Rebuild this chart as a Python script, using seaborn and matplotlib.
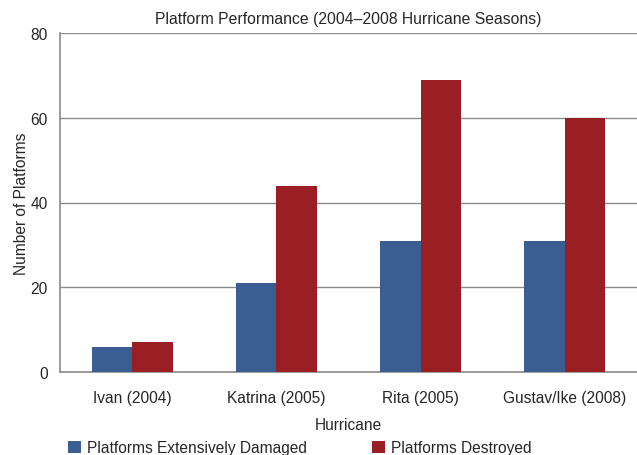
import matplotlib
matplotlib.use("Agg")
import matplotlib.pyplot as plt
from matplotlib.patches import Patch
import seaborn as sns
import pandas as pd

hurricanes = ["Ivan (2004)", "Katrina (2005)", "Rita (2005)", "Gustav/Ike (2008)"]
damaged = [6, 21, 31, 31]
destroyed = [7, 44, 69, 60]
series_names = ["Platforms Extensively Damaged", "Platforms Destroyed"]
y_ticks = [0, 20, 40, 60, 80]

colors = ["#3A5E91", "#9A1F24"]
grid_gray = "#8A8A8A"
fs = 11.2

df = pd.DataFrame({
    "Hurricane": hurricanes * 2,
    "Platforms": damaged + destroyed,
    "Series": [series_names[0]] * len(hurricanes) + [series_names[1]] * len(hurricanes),
})

sns.set_style("white")
plt.rcParams["font.family"] = ["Liberation Sans", "DejaVu Sans"]
plt.rcParams["font.size"] = fs

fig = plt.figure(figsize=(6.37, 4.56), dpi=100)
ax = fig.add_axes([60 / 637, 1 - 373 / 456, 1 - 60 / 637, (373 - 34) / 456])

sns.barplot(data=df, x="Hurricane", y="Platforms", hue="Series", order=hurricanes,
            hue_order=series_names, palette=colors, width=0.56, saturation=1,
            edgecolor="none", linewidth=0, legend=False, ax=ax, zorder=3)

ax.set_ylim(0, 80)
ax.set_xlim(-0.5, len(hurricanes) - 0.5)
ax.set_yticks(y_ticks)
ax.yaxis.grid(True, color=grid_gray, linewidth=1.0, zorder=0)
ax.set_axisbelow(True)

# category boundaries as major ticks, labels centred via minor ticks
ax.set_xticks([i - 0.5 for i in range(len(hurricanes) + 1)])
ax.set_xticklabels([])
ax.set_xticks(range(len(hurricanes)), minor=True)
ax.set_xticklabels(hurricanes, minor=True, fontsize=fs)
ax.tick_params(axis="x", which="major", direction="out", length=6, width=1, color=grid_gray)
ax.tick_params(axis="x", which="minor", length=0, pad=12.8)
ax.tick_params(axis="y", direction="out", length=6, width=1, color=grid_gray, labelsize=fs, pad=3)

for side in ["top", "right"]:
    ax.spines[side].set_visible(False)
for side in ["left", "bottom"]:
    ax.spines[side].set_color(grid_gray)
    ax.spines[side].set_linewidth(1.2)

ax.set_title("Platform Performance (2004\u20132008 Hurricane Seasons)", fontsize=11.3, pad=7)
ax.set_xlabel("Hurricane", fontsize=fs, labelpad=8.8)
ax.set_ylabel("Number of Platforms", fontsize=fs, labelpad=1)

handles = [Patch(facecolor=c, edgecolor="none") for c in colors]
fig.legend(handles, series_names, loc="center", bbox_to_anchor=(300 / 637, 1 - 449 / 456),
           ncol=2, frameon=False, fontsize=fs, handlelength=0.8, handleheight=0.8,
           handletextpad=0.4, columnspacing=4.2, borderaxespad=0, borderpad=0)

fig.savefig("out.png", dpi=100)
